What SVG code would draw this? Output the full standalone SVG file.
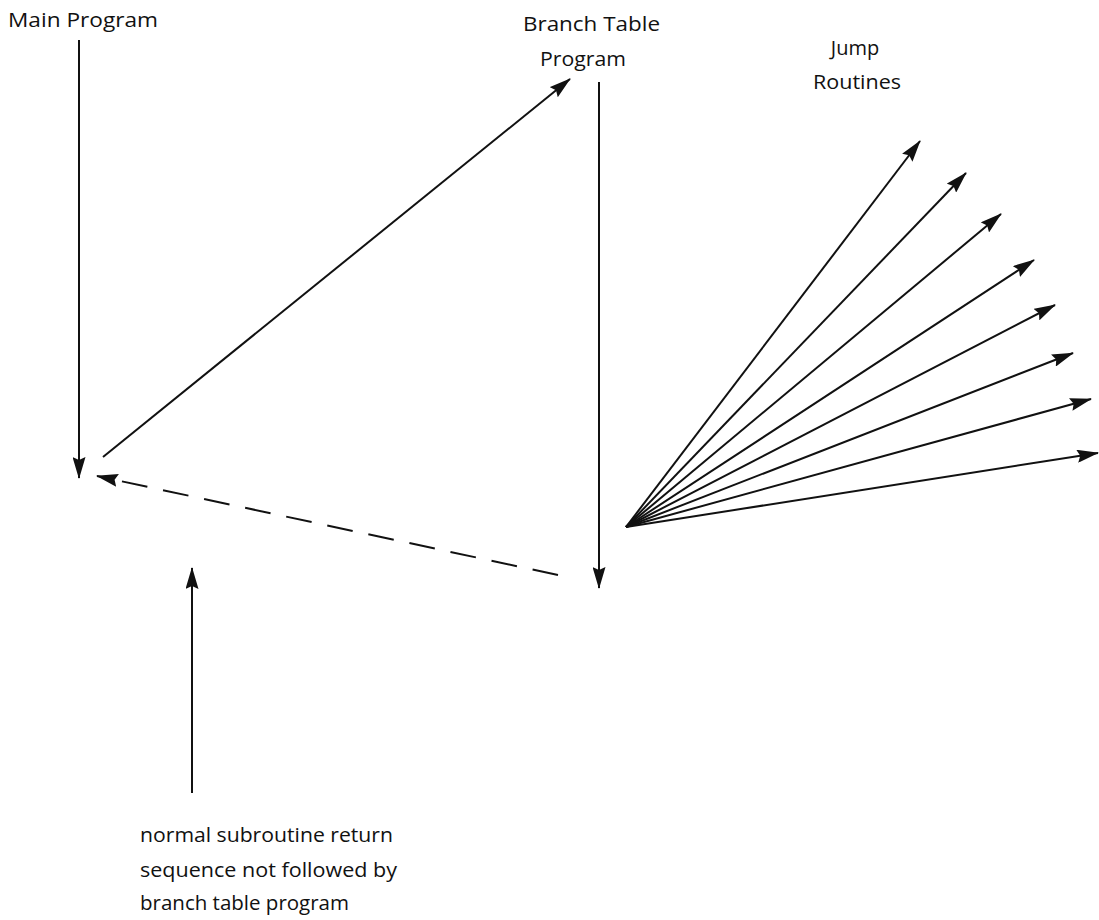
<svg xmlns="http://www.w3.org/2000/svg" width="1099" height="920" viewBox="0 0 1099 920">
<style>
text{font-family:"Open Sans","Liberation Sans",sans-serif;font-size:20px;fill:#111}
.ln{stroke:#111;stroke-width:2;fill:none}
.dash{stroke-dasharray:26,16}
</style>
<defs>
<marker id="ah" viewBox="0 0 22 13" refX="21" refY="6.5" markerWidth="22" markerHeight="13" markerUnits="userSpaceOnUse" orient="auto">
<path d="M0,0 L22,6.5 L0,13 L3,6.5 Z" fill="#111"/>
</marker>
</defs>
<rect width="1099" height="920" fill="#fff"/>
<g id="main-program"><text x="8" y="27" textLength="150" lengthAdjust="spacingAndGlyphs">Main Program</text></g>
<g id="branch-table-program"><text x="523" y="31" textLength="137" lengthAdjust="spacingAndGlyphs">Branch Table</text><text x="540" y="66" textLength="86" lengthAdjust="spacingAndGlyphs">Program</text></g>
<g id="jump-routines"><text x="855" y="55" text-anchor="middle">Jump</text><text x="813" y="89" textLength="88" lengthAdjust="spacingAndGlyphs">Routines</text></g>
<g id="note"><text x="140" y="842" textLength="253" lengthAdjust="spacingAndGlyphs">normal subroutine return</text><text x="140" y="877" textLength="257" lengthAdjust="spacingAndGlyphs">sequence not followed by</text><text x="140" y="910" textLength="209" lengthAdjust="spacingAndGlyphs">branch table program</text></g>
<g id="connectors">
<line class="ln" x1="79" y1="40" x2="79" y2="478" marker-end="url(#ah)"/>
<line class="ln" x1="103" y1="457" x2="570" y2="79" marker-end="url(#ah)"/>
<line class="ln dash" x1="558" y1="575" x2="97" y2="476" marker-end="url(#ah)"/>
<line class="ln" x1="599" y1="82" x2="599" y2="588" marker-end="url(#ah)"/>
<line class="ln" x1="192" y1="793" x2="192" y2="568" marker-end="url(#ah)"/>
<line class="ln" x1="626" y1="527" x2="920" y2="141" marker-end="url(#ah)"/>
<line class="ln" x1="626" y1="527" x2="966" y2="173" marker-end="url(#ah)"/>
<line class="ln" x1="626" y1="527" x2="1001" y2="214" marker-end="url(#ah)"/>
<line class="ln" x1="626" y1="527" x2="1034" y2="260" marker-end="url(#ah)"/>
<line class="ln" x1="626" y1="527" x2="1055" y2="305" marker-end="url(#ah)"/>
<line class="ln" x1="626" y1="527" x2="1073" y2="353" marker-end="url(#ah)"/>
<line class="ln" x1="626" y1="527" x2="1091" y2="399" marker-end="url(#ah)"/>
<line class="ln" x1="626" y1="527" x2="1098" y2="453" marker-end="url(#ah)"/>
</g>
</svg>
